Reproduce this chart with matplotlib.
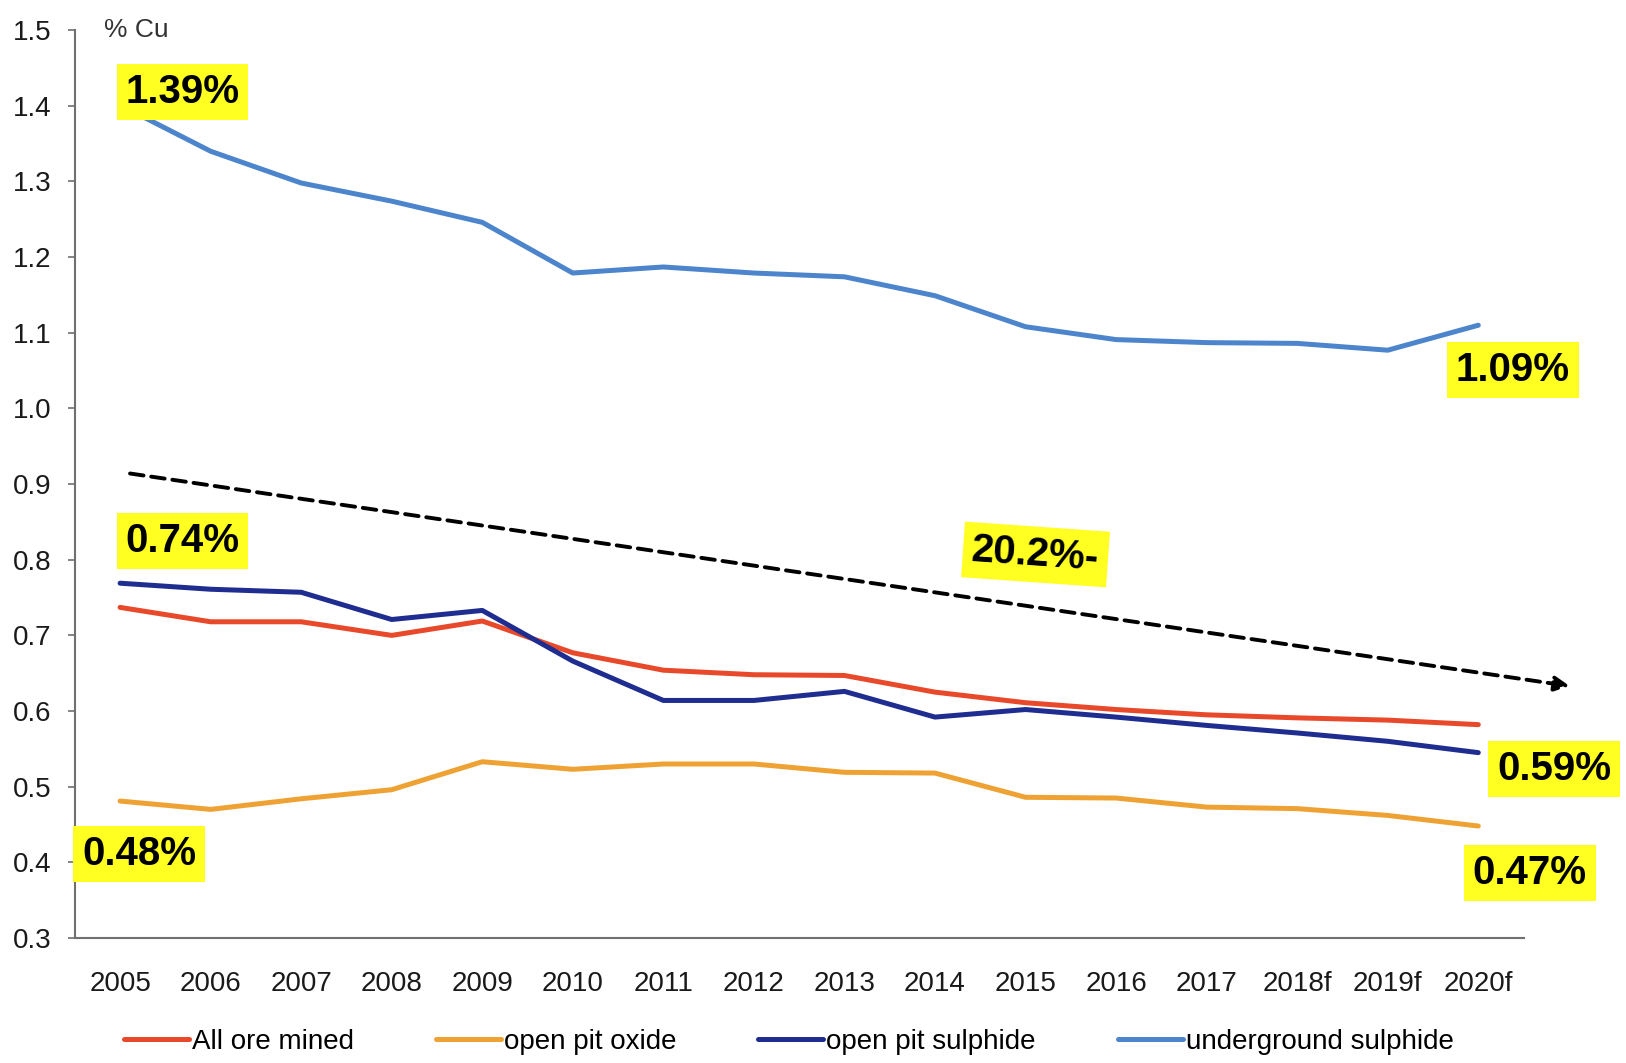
import numpy as np
import matplotlib
matplotlib.use('Agg')
import matplotlib.pyplot as plt
from matplotlib import font_manager

####################################################################################################

years = ['2005', '2006', '2007', '2008', '2009', '2010', '2011', '2012',
         '2013', '2014', '2015', '2016', '2017', '2018f', '2019f', '2020f']

all_ore_mined = [0.737, 0.718, 0.718, 0.700, 0.719, 0.677, 0.654, 0.648,
                 0.647, 0.625, 0.611, 0.602, 0.595, 0.591, 0.588, 0.582]
open_pit_oxide = [0.481, 0.470, 0.484, 0.496, 0.533, 0.523, 0.530, 0.530,
                  0.519, 0.518, 0.486, 0.485, 0.473, 0.471, 0.462, 0.448]
open_pit_sulphide = [0.769, 0.761, 0.757, 0.721, 0.733, 0.666, 0.614, 0.614,
                     0.626, 0.592, 0.602, 0.592, 0.581, 0.571, 0.560, 0.545]
underground_sulphide = [1.401, 1.340, 1.298, 1.274, 1.246, 1.179, 1.187, 1.179,
                        1.174, 1.149, 1.108, 1.091, 1.087, 1.086, 1.077, 1.110]

series_names = ['All ore mined', 'open pit oxide', 'open pit sulphide', 'underground sulphide']
series_colors = ['#E8492A', '#EFA234', '#1E2D8F', '#4C85CC']

# highlighted labels: text, x (category index), y
callout_texts = ['1.39%', '1.09%', '0.74%', '20.2%-', '0.59%', '0.48%', '0.47%']
callout_x = [0.69, 15.38, 0.69, 10.11, 15.84, 0.21, 15.57]
callout_y = [1.418, 1.051, 0.825, 0.807, 0.523, 0.411, 0.386]
callout_rot = [0, 0, 0, -4, 0, 0, 0]

# dashed trend arrow (category index, % Cu)
trend_start = (0.11, 0.914)
trend_end = (16.01, 0.633)

yticks = [0.3, 0.4, 0.5, 0.6, 0.7, 0.8, 0.9, 1.0, 1.1, 1.2, 1.3, 1.4, 1.5]

####################################################################################################

installed = {f.name for f in font_manager.fontManager.ttflist}
narrow = 'Liberation Sans Narrow' if 'Liberation Sans Narrow' in installed else 'Liberation Sans'
plt.rcParams['font.family'] = [narrow, 'DejaVu Sans']

figure = plt.figure(figsize=(16.26, 10.63), dpi=100)
axe = figure.add_axes([0.046, 0.1176, 0.891, 0.854])

x = np.arange(len(years))
for values, name, color in zip([all_ore_mined, open_pit_oxide, open_pit_sulphide, underground_sulphide],
                               series_names, series_colors):
    axe.plot(x, values, color=color, linewidth=3.6, label=name, solid_capstyle='round')

axe.set_xlim(-0.5, 15.5)
axe.set_ylim(0.3, 1.5)
axe.set_yticks(yticks)
axe.set_yticklabels(['%.1f' % v for v in yticks])
axe.set_xticks(x)
axe.set_xticklabels(years)

for side in ('top', 'right'):
    axe.spines[side].set_visible(False)
for side in ('left', 'bottom'):
    axe.spines[side].set_color('#707070')
    axe.spines[side].set_linewidth(1.5)
axe.tick_params(axis='x', length=0, pad=24, labelsize=20, colors='#1a1a1a')
axe.tick_params(axis='y', length=5, width=1.2, color='#707070', pad=12, labelsize=20, labelcolor='#1a1a1a')

axe.text(0.02, 1.0, '% Cu', transform=axe.transAxes, fontsize=19, color='#333333', va='center', ha='left')

# trend arrow
axe.annotate('', xy=trend_end, xytext=trend_start, annotation_clip=False,
             arrowprops=dict(arrowstyle='-|>', linestyle=(0, (3.5, 2)), color='black',
                             linewidth=2.8, mutation_scale=22, shrinkA=0, shrinkB=0))

for text, tx, ty, rot in zip(callout_texts, callout_x, callout_y, callout_rot):
    axe.text(tx, ty, text, fontsize=29, fontweight='bold', color='black', ha='center', va='center',
             rotation=rot, clip_on=False,
             bbox=dict(boxstyle='square,pad=0.22', facecolor='#FFFF22', edgecolor='none'))

figure.legend(loc='center', bbox_to_anchor=(0.485, 0.02), ncol=4, frameon=False, fontsize=20,
              handlelength=2.35, handletextpad=0.1, columnspacing=2.95, borderpad=0)

figure.savefig('out.png', dpi=100)
